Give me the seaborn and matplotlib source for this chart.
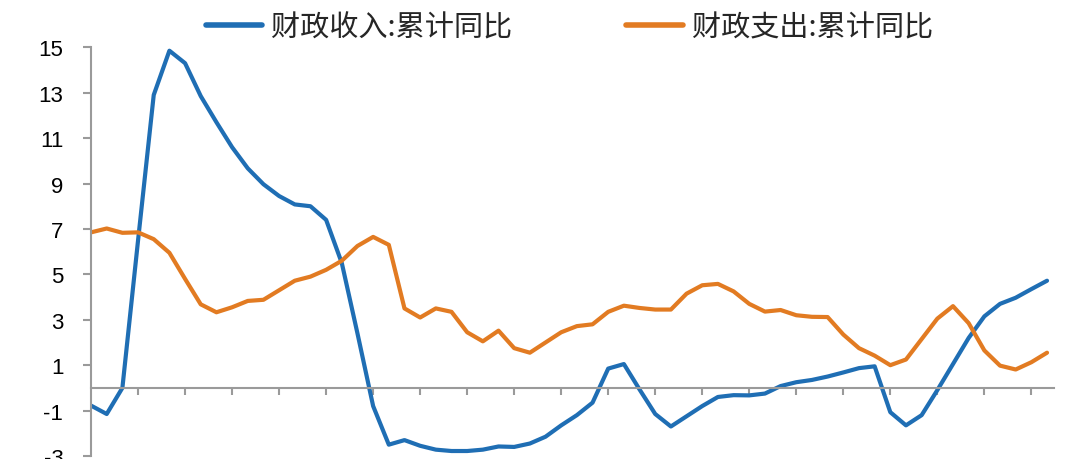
import numpy as np
import pandas as pd
import seaborn as sns
import matplotlib
matplotlib.use("Agg")
import matplotlib.pyplot as plt

# 财政收入/支出 累计同比 (%), 月度序列
收入 = [-0.78, -1.15, 0.0, 6.5, 12.9, 14.85, 14.3, 12.85, 11.7, 10.6,
        9.67, 8.97, 8.45, 8.08, 8.0, 7.4, 5.5, 2.4, -0.8, -2.5,
        -2.3, -2.55, -2.72, -2.78, -2.78, -2.72, -2.58, -2.6, -2.45, -2.15,
        -1.65, -1.2, -0.65, 0.85, 1.05, -0.07, -1.15, -1.7, -1.25, -0.8,
        -0.4, -0.32, -0.33, -0.25, 0.08, 0.25, 0.35, 0.5, 0.68, 0.87,
        0.95, -1.07, -1.65, -1.2, -0.1, 1.05, 2.2, 3.15, 3.7, 3.97,
        4.35, 4.72]
支出 = [6.85, 7.02, 6.83, 6.85, 6.55, 5.95, 4.8, 3.68, 3.33, 3.55,
        3.83, 3.88, 4.3, 4.72, 4.9, 5.2, 5.6, 6.25, 6.65, 6.3,
        3.5, 3.1, 3.5, 3.35, 2.45, 2.05, 2.52, 1.75, 1.55, 2.0,
        2.45, 2.72, 2.8, 3.35, 3.62, 3.52, 3.45, 3.45, 4.15, 4.52,
        4.58, 4.25, 3.7, 3.36, 3.43, 3.2, 3.13, 3.12, 2.35, 1.75,
        1.42, 1.0, 1.25, 2.15, 3.05, 3.6, 2.85, 1.65, 0.98, 0.81,
        1.13, 1.55]
namen = ["财政收入:累计同比", "财政支出:累计同比"]
farben = ["#1F6EB4", "#E27B22"]
y_ticks = [-3, -1, 1, 3, 5, 7, 9, 11, 13, 15]

monat = np.arange(len(收入))
df = pd.DataFrame({"monat": np.concatenate([monat, monat]),
                   "wert": 收入 + 支出,
                   "serie": [namen[0]] * len(收入) + [namen[1]] * len(支出)})

sns.set_style("white")
plt.rcParams["font.family"] = ["Liberation Sans", "Noto Sans CJK SC", "DejaVu Sans"]
plt.rcParams["axes.unicode_minus"] = False

fig = plt.figure(figsize=(10.8, 4.6), dpi=100)
ax = fig.add_axes([0.0843, 0.0065, 0.8917, 0.8885])
sns.lineplot(data=df, x="monat", y="wert", hue="serie", palette=farben,
             linewidth=3, ax=ax, legend=False)
for l in ax.lines:
    l.set_solid_joinstyle("round")
    l.set_solid_capstyle("round")

ax.set_xlim(0, 61.45)
ax.set_ylim(-3, 15)
ax.set_yticks(y_ticks)
ax.set_xticks(np.arange(3, 61, 3))
ax.set_xticklabels([])
ax.set_xlabel("")
ax.set_ylabel("")

grau = "#9a9a9a"
ax.spines["top"].set_visible(False)
ax.spines["right"].set_visible(False)
ax.spines["bottom"].set_position(("data", 0))
for s in ["left", "bottom"]:
    ax.spines[s].set_color(grau)
    ax.spines[s].set_linewidth(1.5)
ax.tick_params(axis="y", direction="out", length=6, width=1.5, color=grau,
               pad=14, labelsize=16, labelcolor="black", left=True)
ax.tick_params(axis="x", direction="out", length=5, width=1.5, color=grau,
               bottom=True)

handles = [plt.Line2D([], [], color=c, linewidth=4) for c in farben]
fig.legend(handles, namen, loc="center", bbox_to_anchor=(0.527, 0.939),
           ncol=2, frameon=False, handlelength=1.95, handletextpad=0.3,
           columnspacing=3.9,
           prop={"family": ["Noto Sans CJK SC", "DejaVu Sans"], "size": 21})

fig.savefig("out.png", dpi=100)
